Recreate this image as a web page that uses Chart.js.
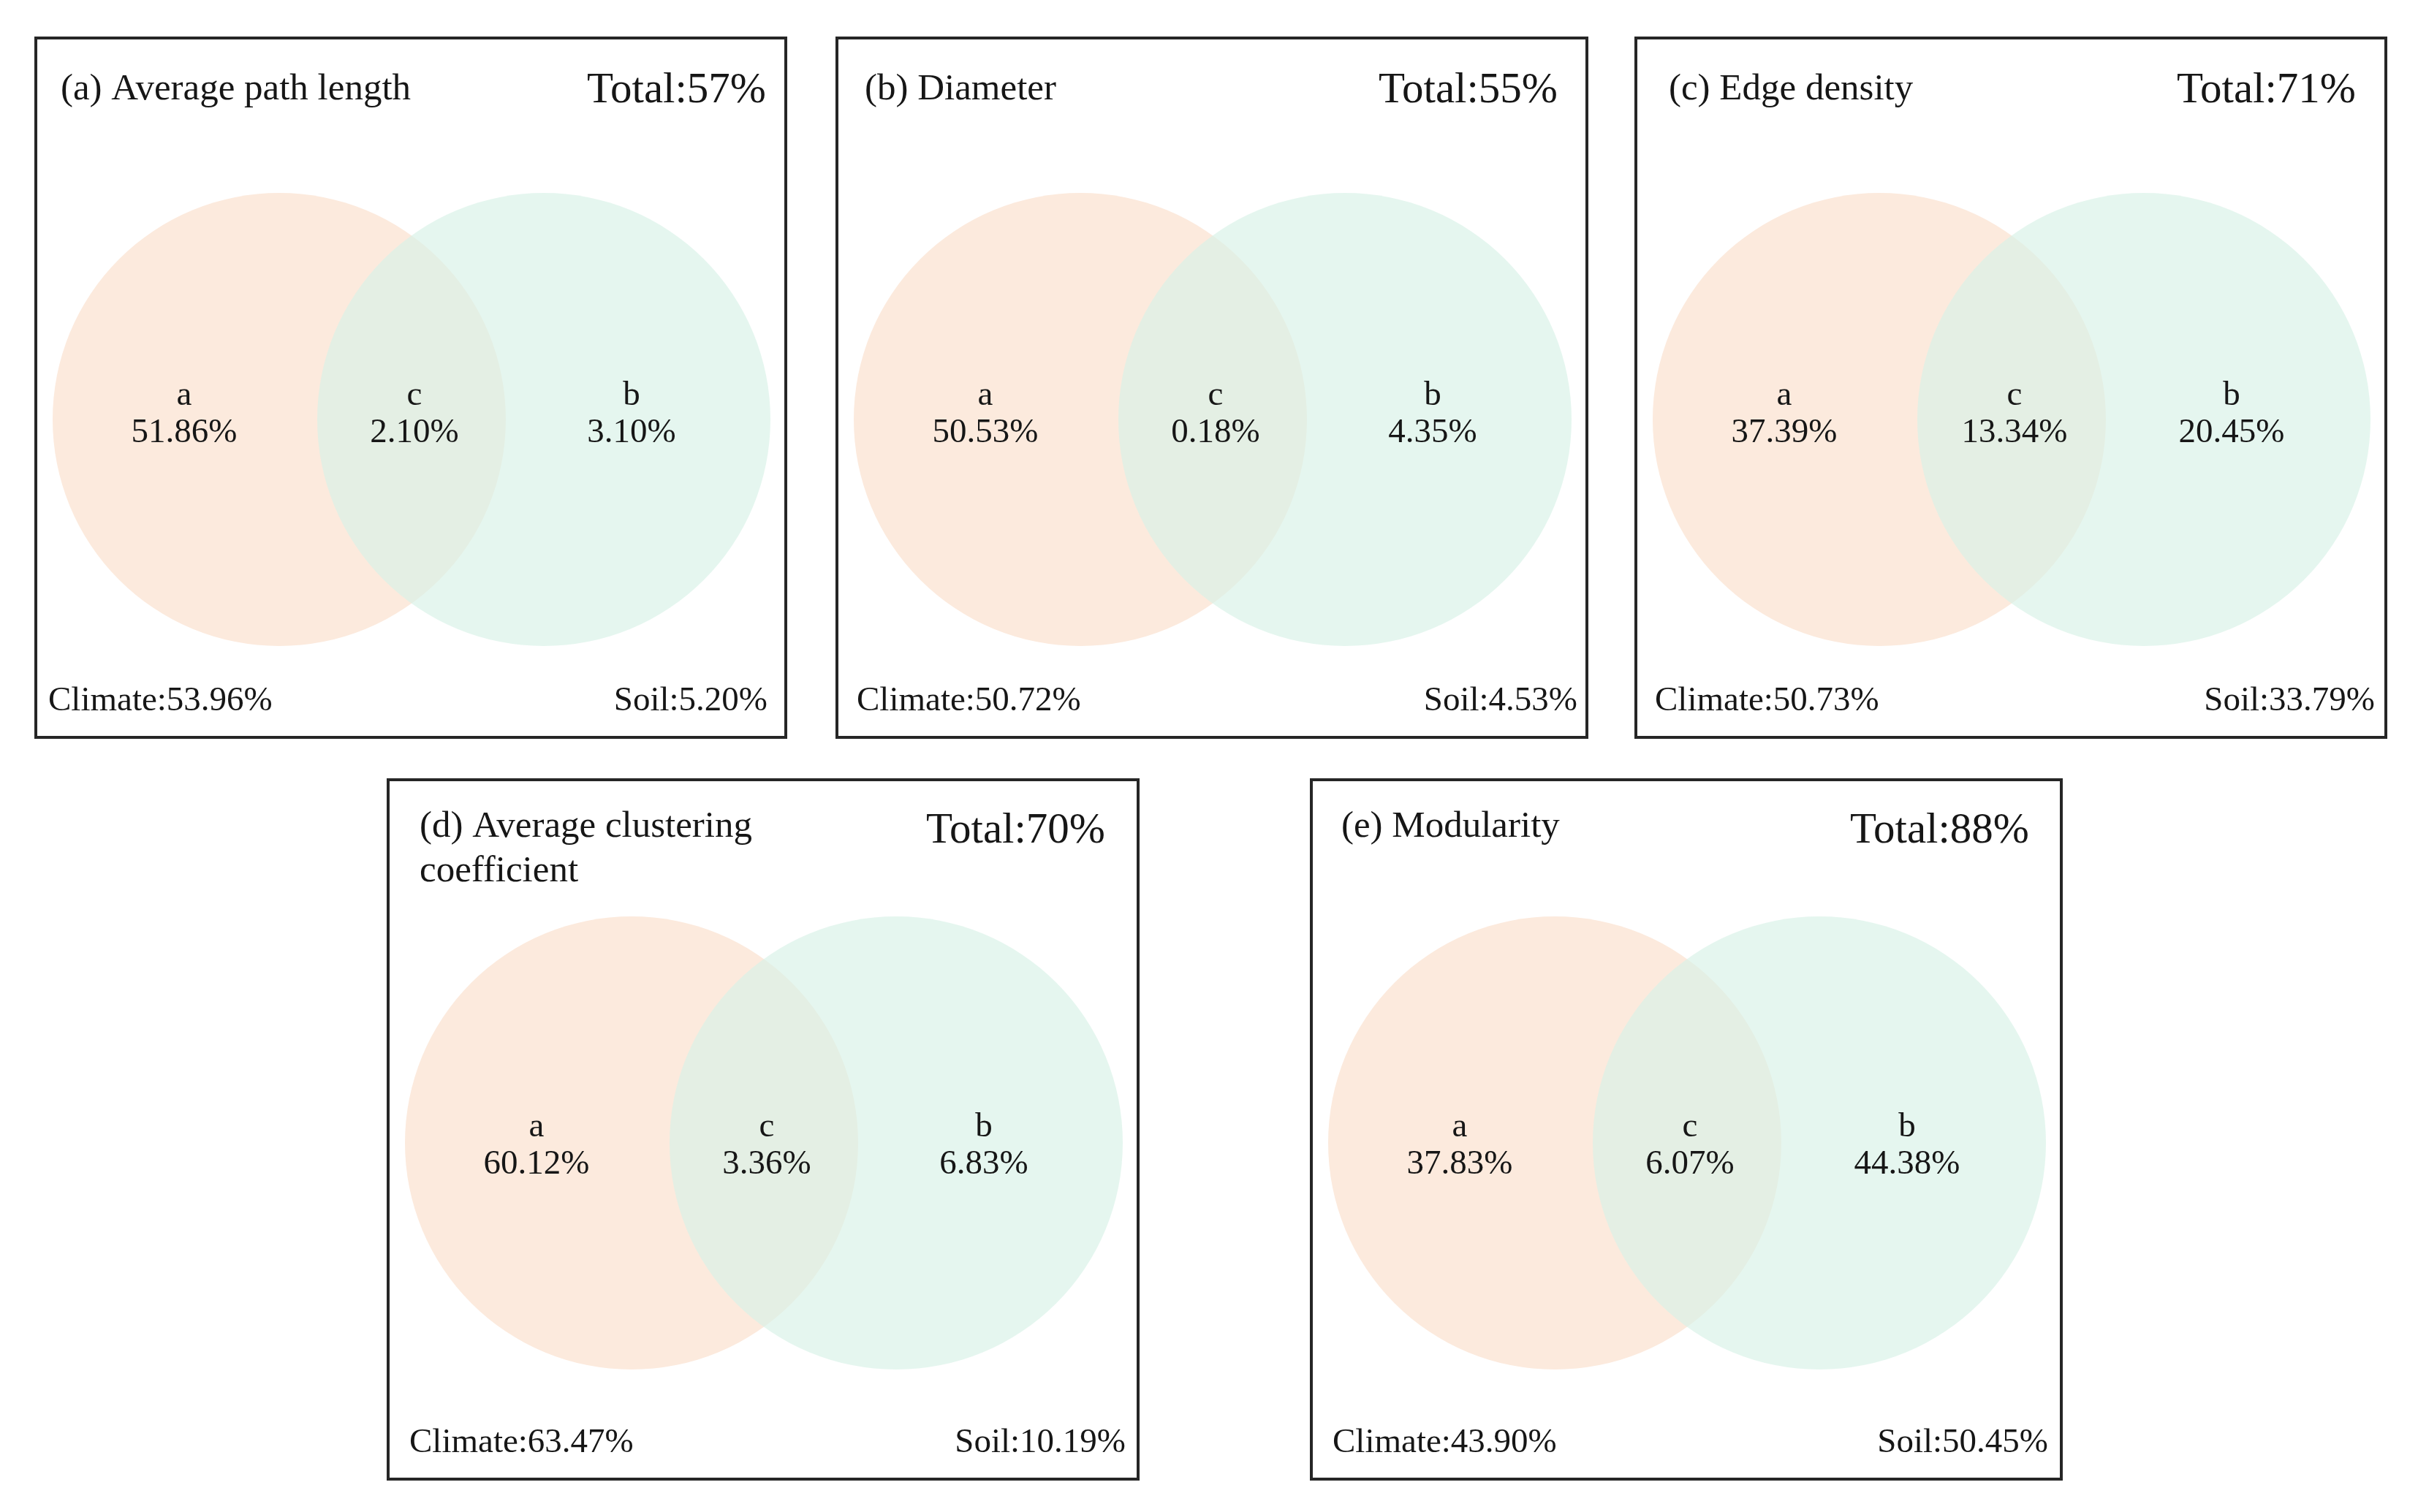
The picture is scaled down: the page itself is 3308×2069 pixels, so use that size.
<!DOCTYPE html>
<html>
<head>
<meta charset="utf-8">
<script src="https://cdn.jsdelivr.net/npm/chart.js@4.4.1/dist/chart.umd.min.js"></script>
<style>
  html, body { margin: 0; padding: 0; background: #ffffff; }
  body { width: 3308px; height: 2069px; position: relative; overflow: hidden; }
  .panel { position: absolute; width: 1030px; height: 961px; }
  .panel canvas { display: block; }
</style>
</head>
<body>
<div class="panel" style="left:47px; top:50px;"><canvas id="c0"></canvas></div>
<div class="panel" style="left:1143px; top:50px;"><canvas id="c1"></canvas></div>
<div class="panel" style="left:2236px; top:50px;"><canvas id="c2"></canvas></div>
<div class="panel" style="left:529px; top:1065px;"><canvas id="c3"></canvas></div>
<div class="panel" style="left:1792px; top:1065px;"><canvas id="c4"></canvas></div>
<script>
// ---------------- DATA ----------------
const panelTitles = [
  ["(a) Average path length"],
  ["(b) Diameter"],
  ["(c) Edge density"],
  ["(d) Average clustering", "coefficient"],
  ["(e) Modularity"]
];
const totalExplained = [57, 55, 71, 70, 88];               // Total:%
const climateOnly   = [51.86, 50.53, 37.39, 60.12, 37.83]; // region a
const sharedPart    = [2.10, 0.18, 13.34, 3.36, 6.07];     // region c
const soilOnly      = [3.10, 4.35, 20.45, 6.83, 44.38];    // region b
const climateTotal  = [53.96, 50.72, 50.73, 63.47, 43.90];
const soilTotal     = [5.20, 4.53, 33.79, 10.19, 50.45];
const regionNames   = ["a", "c", "b"];

// ---------------- LAYOUT (panel units = px inside a 1030x961 panel) ----------------
const PANEL_W = 1030, PANEL_H = 961;
const GEOM = {
  r: 310, climateX: 335, soilX: 697,
  labelX: [205, 520, 817],
  bottomBaseline: 922
};
// small per-panel text insets (left/right margins)
const INSETS = [
  { titleX: 36, totalRight: 29, climateX: 19, soilRight: 27 },
  { titleX: 40, totalRight: 42, climateX: 29, soilRight: 15 },
  { titleX: 47, totalRight: 43, climateX: 28, soilRight: 17 },
  { titleX: 45, totalRight: 47, climateX: 31, soilRight: 19 },
  { titleX: 43, totalRight: 46, climateX: 31, soilRight: 20 }
];
const ROWS = [
  { cy: 524, letterY: 504, pctY: 555, titleY: 86, titleLine: 61, totalY: 90 },
  { cy: 499, letterY: 490, pctY: 541, titleY: 80, titleLine: 61, totalY: 88 }
];
const FONT = '"Liberation Serif", "Times New Roman", serif';
const TEXT = '#161616';
const ORANGE = 'rgb(252,234,221)';
const GREEN = 'rgba(216,242,232,0.68)';

function fmt(v) { return v.toFixed(2) + '%'; }

const textPlugin = {
  id: 'vennText',
  beforeDraw(chart) {
    const ctx = chart.ctx;
    ctx.save();
    ctx.fillStyle = '#ffffff';
    ctx.fillRect(0, 0, chart.width, chart.height);
    ctx.restore();
  },
  afterDraw(chart) {
    const i = chart.options.plugins.vennText.index;
    const row = ROWS[i < 3 ? 0 : 1];
    const ins = INSETS[i];
    const xs = chart.scales.x, ys = chart.scales.y;
    const X = v => xs.getPixelForValue(v), Y = v => ys.getPixelForValue(v);
    const ctx = chart.ctx;
    ctx.save();
    // frame
    ctx.strokeStyle = '#262626';
    ctx.lineWidth = 4;
    ctx.strokeRect(2, 2, chart.width - 4, chart.height - 4);

    ctx.fillStyle = TEXT;
    ctx.textBaseline = 'alphabetic';
    // title
    ctx.font = '51px ' + FONT;
    ctx.textAlign = 'left';
    panelTitles[i].forEach((line, k) => {
      ctx.fillText(line, X(ins.titleX), Y(row.titleY + k * row.titleLine));
    });
    // total
    ctx.font = '59px ' + FONT;
    ctx.textAlign = 'right';
    ctx.fillText('Total:' + totalExplained[i] + '%', X(PANEL_W - ins.totalRight), Y(row.totalY));
    // region labels
    ctx.font = '47px ' + FONT;
    ctx.textAlign = 'center';
    const vals = [climateOnly[i], sharedPart[i], soilOnly[i]];
    regionNames.forEach((n, k) => {
      ctx.fillText(n, X(GEOM.labelX[k]), Y(row.letterY));
      ctx.fillText(fmt(vals[k]), X(GEOM.labelX[k]), Y(row.pctY));
    });
    // bottom labels
    ctx.textAlign = 'left';
    ctx.fillText('Climate:' + fmt(climateTotal[i]), X(ins.climateX), Y(GEOM.bottomBaseline));
    ctx.textAlign = 'right';
    ctx.fillText('Soil:' + fmt(soilTotal[i]), X(PANEL_W - ins.soilRight), Y(GEOM.bottomBaseline));
    ctx.restore();
  }
};

function radiusPx(ctx) {
  const s = ctx.chart.scales.x;
  return Math.abs(s.getPixelForValue(GEOM.r) - s.getPixelForValue(0));
}

for (let i = 0; i < 5; i++) {
  const row = ROWS[i < 3 ? 0 : 1];
  const canvas = document.getElementById('c' + i);
  new Chart(canvas, {
    type: 'scatter',
    data: {
      datasets: [
        { label: 'Climate', data: [{ x: GEOM.climateX, y: row.cy }],
          backgroundColor: ORANGE, borderWidth: 0, pointRadius: radiusPx, order: 2 },
        { label: 'Soil', data: [{ x: GEOM.soilX, y: row.cy }],
          backgroundColor: GREEN, borderWidth: 0, pointRadius: radiusPx, order: 1 }
      ]
    },
    options: {
      responsive: true,
      maintainAspectRatio: false,
      animation: false,
      events: [],
      layout: { padding: 0 },
      scales: {
        x: { type: 'linear', min: 0, max: PANEL_W, display: false },
        y: { type: 'linear', min: 0, max: PANEL_H, reverse: true, display: false }
      },
      plugins: {
        legend: { display: false },
        tooltip: { enabled: false },
        title: { display: false },
        vennText: { index: i }
      }
    },
    plugins: [textPlugin]
  });
}
</script>
</body>
</html>
